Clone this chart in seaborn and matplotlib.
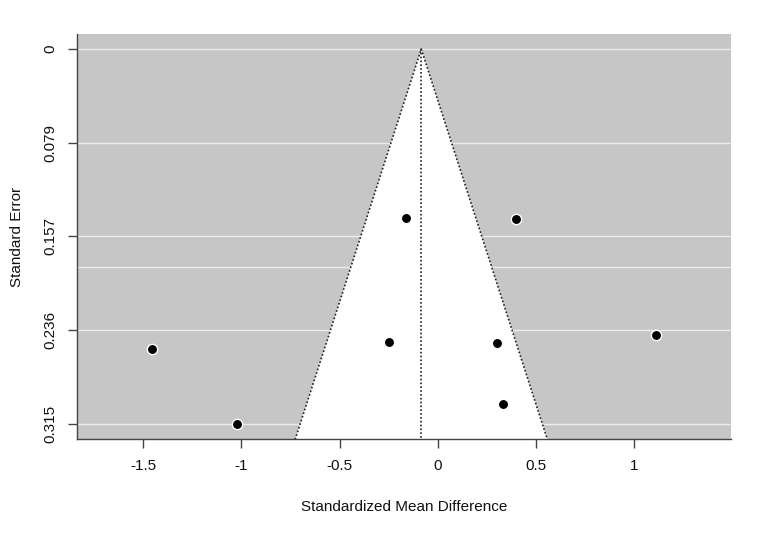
import numpy as np
import pandas as pd
import seaborn as sns
import matplotlib
matplotlib.use("Agg")
import matplotlib.pyplot as plt

# study effects
smd = [-0.161, 0.399, -1.457, -0.250, 0.302, 1.112, -1.022, 0.334]
se = [0.1416, 0.1430, 0.2519, 0.2461, 0.2466, 0.2402, 0.3144, 0.2980]

estimate = -0.084          # pooled estimate (centre of funnel)
se_ticks = [0, 0.079, 0.157, 0.236, 0.315]
se_tick_labels = ["0", "0.079", "0.157", "0.236", "0.315"]
extra_hlines = [0.183]
x_ticks = [-1.5, -1, -0.5, 0, 0.5, 1]
x_tick_labels = ["-1.5", "-1", "-0.5", "0", "0.5", "1"]

df = pd.DataFrame({"smd": smd, "se": se})

sns.set_style("ticks")
plt.rcParams["font.family"] = ["Liberation Sans", "DejaVu Sans"]

fig = plt.figure(figsize=(7.7, 5.35), dpi=100)
ax = fig.add_axes([0.1004, 0.1789, 0.849, 0.7575])
ax.set_facecolor("#c6c6c6")

xlim = (-1.836, 1.494)
ylim = (0.3276, -0.0126)
ax.set_xlim(xlim)
ax.set_ylim(ylim)

# horizontal reference lines (under the funnel)
for h in se_ticks + extra_hlines:
    ax.axhline(h, color="#ececec", lw=1.0, zorder=0.5)

# pseudo confidence region
se_max = 0.34
funnel_x = [estimate - 1.96 * se_max, estimate, estimate + 1.96 * se_max]
funnel_y = [se_max, 0, se_max]
ax.fill(funnel_x, funnel_y, color="white", zorder=1, lw=0)
ax.plot(funnel_x, funnel_y, color="#222222", lw=1.2, ls=(0, (1, 1.3)), zorder=2)
ax.plot([estimate, estimate], [0, se_max], color="#222222", lw=1.2,
        ls=(0, (1, 1.3)), zorder=2)

sns.scatterplot(data=df, x="smd", y="se", ax=ax, color="black",
                edgecolor="white", linewidth=1.0, s=55, zorder=3, legend=False)

ax.set_xticks(x_ticks)
ax.set_xticklabels(x_tick_labels)
ax.set_yticks(se_ticks)
ax.set_yticklabels(se_tick_labels, rotation=90, va="center")

ax.tick_params(axis="both", length=6.5, width=1.0, color="#444444",
               labelsize=11, labelcolor="#111111")
ax.tick_params(axis="x", pad=8)
ax.tick_params(axis="y", pad=8)

sns.despine(ax=ax)
for side in ["left", "bottom"]:
    ax.spines[side].set_color("#444444")
    ax.spines[side].set_linewidth(1.0)

ax.set_xlabel("Standardized Mean Difference", fontsize=11, labelpad=19,
              color="#111111")
ax.set_ylabel("Standard Error", fontsize=11, labelpad=14, color="#111111")

fig.savefig("out.png", dpi=100)
